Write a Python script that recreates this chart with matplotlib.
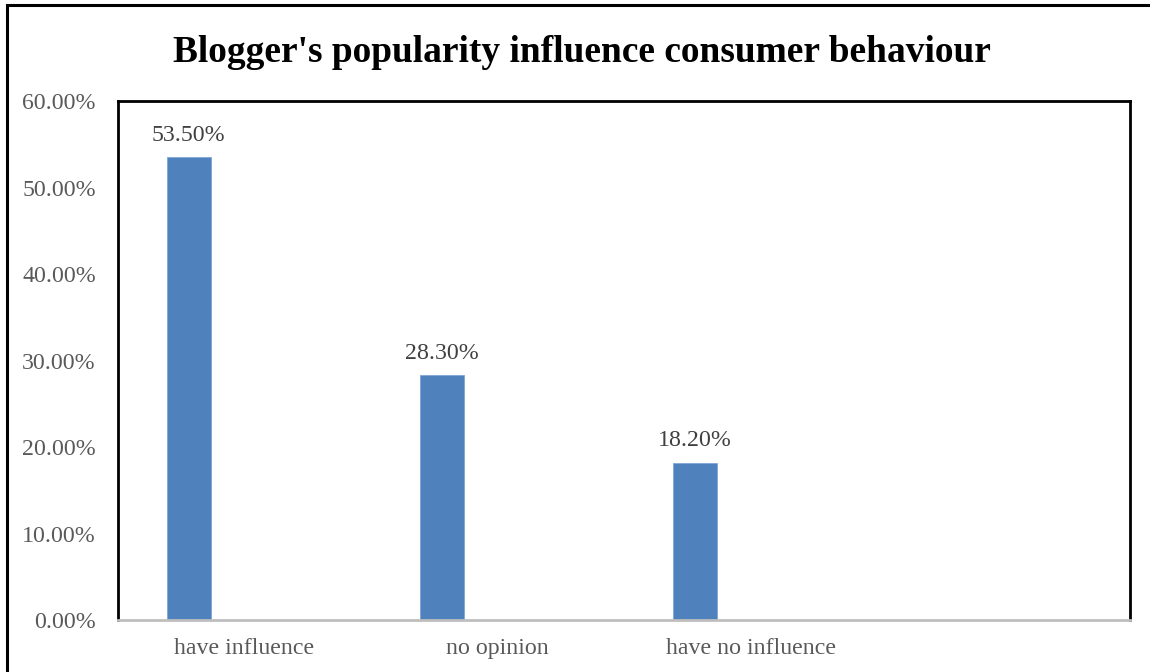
import matplotlib
matplotlib.use("Agg")
import matplotlib.pyplot as plt
from matplotlib.patches import Rectangle
from matplotlib.ticker import FuncFormatter
import numpy as np

# survey answers (last slot left empty on the axis)
categories = ["have influence", "no opinion", "have no influence", ""]
shares = [0.535, 0.283, 0.182]
data_labels = ["53.50%", "28.30%", "18.20%"]
y_ticks = [0.0, 0.1, 0.2, 0.3, 0.4, 0.5, 0.6]

plt.rcParams["font.family"] = ["Liberation Serif", "DejaVu Serif"]

fig = plt.figure(figsize=(11.5, 6.72), dpi=100)
ax = fig.add_axes([118 / 1150, 1 - 620 / 672, (1130 - 118) / 1150, (620 - 101) / 672])

# outer chart frame
fig.patches.append(Rectangle((7 / 1150, -0.1), 1.2, 1 - 5 / 672 + 0.1,
                             transform=fig.transFigure, fill=False,
                             edgecolor="black", linewidth=2.2, clip_on=False))

x = np.arange(len(categories))
bar_x = x[:len(shares)] - 0.22
ax.bar(bar_x, shares, width=0.174, color="#4F81BD", edgecolor="#7FA6D6", linewidth=0.6)

for bx, val, lab in zip(bar_x, shares, data_labels):
    ax.annotate(lab, (bx, val), xytext=(0, 8), textcoords="offset points",
                ha="center", va="bottom", fontsize=17.2, color="#404040")

ax.set_xlim(-0.5, len(categories) - 0.5)
ax.set_ylim(0, 0.6)
ax.set_xticks(x)
ax.set_xticklabels(categories)
ax.set_yticks(y_ticks)
ax.yaxis.set_major_formatter(FuncFormatter(lambda v, p: f"{v * 100:.2f}%"))
ax.tick_params(axis="both", length=0, labelsize=17.2, labelcolor="#595959")
ax.tick_params(axis="y", pad=16)
ax.tick_params(axis="x", pad=13)

for side in ["left", "top", "right"]:
    ax.spines[side].set_color("black")
    ax.spines[side].set_linewidth(2)
ax.spines["bottom"].set_color("#BFBFBF")
ax.spines["bottom"].set_linewidth(2)

fig.text(582 / 1150, 1 - 52 / 672, "Blogger's popularity influence consumer behaviour",
         ha="center", va="center", fontsize=26.9, fontweight="bold", color="black")

fig.savefig("out.png", dpi=100)
